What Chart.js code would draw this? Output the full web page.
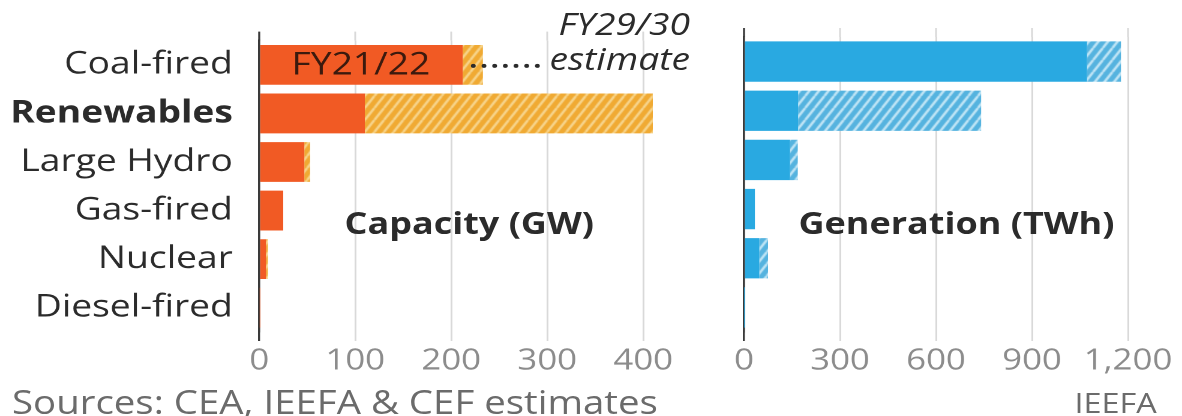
<!DOCTYPE html>
<html>
<head>
<meta charset="utf-8">
<script src="https://cdn.jsdelivr.net/npm/chart.js@4"></script>
<style>
  body { margin: 0; background: #fff; font-family: "Open Sans", sans-serif; overflow: hidden; }
  /* the source graphic is set in a wide face: lay out at 985px and stretch to 1182px */
  #wrap { position: relative; width: 985px; height: 416px; transform: scaleX(1.2); transform-origin: 0 0; }
  .box { position: absolute; top: 0; height: 380px; }
  .txt { position: absolute; white-space: nowrap; line-height: 1; color: #2b2b2b; }
  .mid { transform: translateX(-50%); }
</style>
</head>
<body>
<div id="wrap">
  <div class="box" style="left:0;width:583px"><canvas id="capChart"></canvas></div>
  <div class="box" style="left:583px;width:402px"><canvas id="genChart"></canvas></div>
  <div class="txt mid" style="left:391px;top:208px;font-size:30px;font-weight:bold">Capacity (GW)</div>
  <div class="txt mid" style="left:797px;top:208px;font-size:30px;font-weight:bold">Generation (TWh)</div>
  <div class="txt" style="right:410px;top:8px;font-size:31px;font-style:italic">FY29/30</div>
  <div class="txt" style="right:410px;top:43px;font-size:31px;font-style:italic">estimate</div>
  <div class="txt" style="left:10px;top:386px;font-size:32px;color:#6b6b6b">Sources: CEA, IEEFA &amp; CEF estimates</div>
  <div class="txt" style="right:21px;top:389px;font-size:27px;color:#6b6b6b">IEEFA</div>
</div>
<script>
// ===================== Data =====================
const categories = ['Coal-fired', 'Renewables', 'Large Hydro', 'Gas-fired', 'Nuclear', 'Diesel-fired'];
const capacityFY22 = [212, 110, 47, 25, 7, 0.5];
const capacityFY30 = [233, 410, 53, 25, 9, 0.5];
const generationFY22 = [1072, 169, 144, 34, 48, 0.5];
const generationFY30 = [1178, 741, 168, 34, 75, 0.5];
const capacityTicks = [0, 100, 200, 300, 400];
const generationTicks = [0, 300, 600, 900, 1200];

// ===================== Helpers =====================
function makeHatch(bg, fg) {
  const w = 8, h = 12;
  const c = document.createElement('canvas');
  c.width = w; c.height = h;
  const g = c.getContext('2d');
  g.fillStyle = bg;
  g.fillRect(0, 0, w, h);
  g.strokeStyle = fg;
  g.lineWidth = 2.2;
  g.beginPath();
  for (let k = -1; k <= 1; k++) {
    g.moveTo(k * w, h);
    g.lineTo(k * w + w, 0);
  }
  g.stroke();
  return g.createPattern(c, 'repeat');
}

const FONT = '"Open Sans", sans-serif';
const GRID = '#d9d9d9';
const AXIS = '#3a3a3a';

// grid lines poke out a little above the plot
const gridTops = {
  id: 'gridTops',
  beforeDatasetsDraw(chart) {
    const { ctx, chartArea, scales } = chart;
    ctx.save();
    scales.x.ticks.forEach(function (t) {
      const px = scales.x.getPixelForValue(t.value);
      ctx.strokeStyle = t.value === 0 ? AXIS : GRID;
      ctx.lineWidth = t.value === 0 ? 1.7 : 1.5;
      ctx.beginPath();
      ctx.moveTo(px, chartArea.top - 9);
      ctx.lineTo(px, chartArea.top);
      ctx.stroke();
    });
    ctx.restore();
  }
};

// label inside the coal bar + dotted leader
const barLabels = {
  id: 'barLabels',
  afterDatasetsDraw(chart) {
    if (chart.canvas.id !== 'capChart') return;
    const { ctx, scales } = chart;
    const x = scales.x, y = scales.y;
    const cy = y.getPixelForValue(0);
    ctx.save();
    ctx.fillStyle = '#3b1a0e';
    ctx.font = '31px ' + FONT;
    ctx.textAlign = 'center';
    ctx.textBaseline = 'middle';
    ctx.fillText('FY21/22', x.getPixelForValue(capacityFY22[0] / 2), cy + 1);
    ctx.fillStyle = '#2b2b2b';
    for (let px = x.getPixelForValue(capacityFY30[0]) - 8; px < 452; px += 8.9) {
      ctx.beginPath();
      ctx.arc(px, cy + 1, 2, 0, Math.PI * 2);
      ctx.fill();
    }
    ctx.restore();
  }
};

function makeChart(id, now, est, ticks, max, colors, opts) {
  const onlyTicks = function (scale) {
    scale.ticks = ticks.map(function (v) { return { value: v }; });
  };
  return new Chart(document.getElementById(id), {
    type: 'bar',
    data: {
      labels: categories,
      datasets: [
        {
          label: 'FY21/22',
          data: now,
          backgroundColor: colors.solid,
          order: 0,
          grouped: false,
          barPercentage: 0.82,
          categoryPercentage: 1
        },
        {
          label: 'FY29/30 estimate',
          data: now.map(function (v, i) { return [v, est[i]]; }),
          backgroundColor: colors.hatch,
          order: 1,
          grouped: false,
          barPercentage: 0.82,
          categoryPercentage: 1
        }
      ]
    },
    options: {
      indexAxis: 'y',
      responsive: true,
      maintainAspectRatio: false,
      animation: false,
      devicePixelRatio: 2,
      layout: { padding: { top: 37, right: opts.padRight, left: 0, bottom: 0 } },
      plugins: { legend: { display: false }, tooltip: { enabled: false } },
      scales: {
        x: {
          min: 0,
          max: max,
          afterBuildTicks: onlyTicks,
          afterFit: function (s) { s.height = 48; },
          border: { display: false },
          grid: {
            color: function (c) { return c.tick && c.tick.value === 0 ? AXIS : GRID; },
            lineWidth: function (c) { return c.tick && c.tick.value === 0 ? 1.7 : 1.5; },
            tickLength: 9
          },
          ticks: {
            autoSkip: false,
            includeBounds: false,
            stepSize: ticks[1] - ticks[0],
            maxRotation: 0,
            minRotation: 0,
            padding: 3,
            color: '#8c8c8c',
            font: { family: FONT, size: 29 }
          }
        },
        y: {
          afterFit: function (s) { s.width = opts.yWidth; },
          border: { display: true, color: AXIS, width: 1.7 },
          grid: { display: false, drawTicks: false },
          ticks: {
            display: opts.showLabels,
            padding: 22,
            color: '#2b2b2b',
            font: function (c) {
              return { family: FONT, size: 31, weight: c.index === 1 ? 'bold' : 'normal' };
            }
          }
        }
      }
    },
    plugins: [gridTops, barLabels]
  });
}

makeChart('capChart', capacityFY22, capacityFY30, capacityTicks, 420,
  { solid: '#f15a24', hatch: makeHatch('#f0aa33', '#f8d68e') },
  { padRight: 31, yWidth: 216, showLabels: true });

makeChart('genChart', generationFY22, generationFY30, generationTicks, 1260,
  { solid: '#29a9e1', hatch: makeHatch('#55b3df', '#c3e7f7') },
  { padRight: 29, yWidth: 37, showLabels: false });
</script>
</body>
</html>
